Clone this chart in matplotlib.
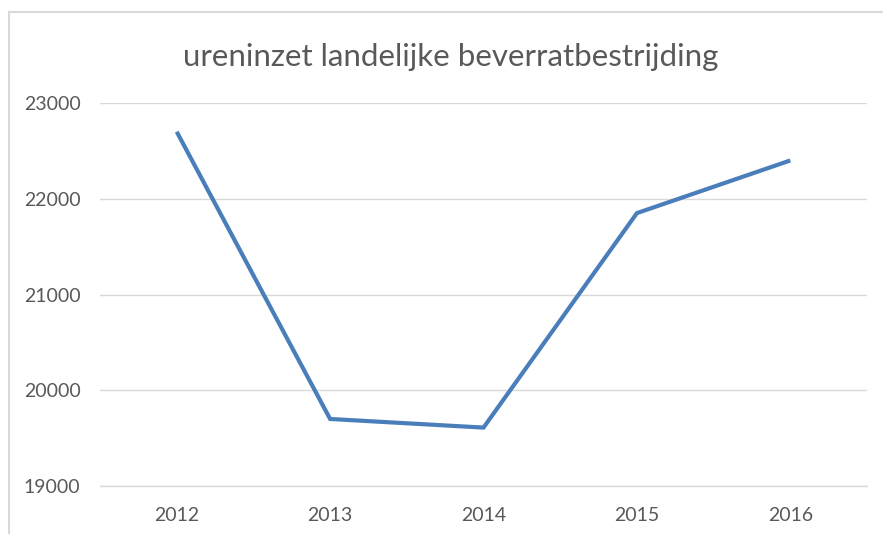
import matplotlib
matplotlib.use("Agg")
import matplotlib.pyplot as plt
from matplotlib.lines import Line2D

years = ["2012", "2013", "2014", "2015", "2016"]
hours = [22700, 19700, 19610, 21850, 22400]
yticks = [19000, 20000, 21000, 22000, 23000]
title = "ureninzet landelijke beverratbestrijding"

plt.rcParams['font.family'] = ['Lato', 'DejaVu Sans']

W, H = 883, 534
fig = plt.figure(figsize=(W/100, H/100), dpi=100)
ax = fig.add_axes([100/W, 1-486/H, (867-100)/W, (486-103)/H])

x = list(range(len(years)))
ax.plot(x, hours, color="#4A7EBB", lw=3.0, solid_joinstyle="miter", solid_capstyle="butt", zorder=3)
ax.set_xlim(-0.5, len(years)-0.5)
ax.set_ylim(19000, 23000)
ax.set_yticks(yticks)
ax.set_yticklabels([str(v) for v in yticks])
ax.set_xticks(x)
ax.set_xticklabels(years)
ax.grid(axis="y", color="#D9D9D9", lw=1.0)
ax.set_axisbelow(True)
for s in ["top", "right", "left"]:
    ax.spines[s].set_visible(False)
ax.spines["bottom"].set_color("#D9D9D9")
ax.spines["bottom"].set_linewidth(1.0)
ax.tick_params(axis="both", length=0, colors="#595959", labelsize=14)
ax.tick_params(axis="y", pad=14)
ax.tick_params(axis="x", pad=15)

fig.text(451/W, 1-57/H, title, ha="center", va="center", fontsize=22.5, color="#595959")

# chart border (cropped)
fig.add_artist(Line2D([9/W, 9/W], [0, 1-12/H], transform=fig.transFigure, color="#D9D9D9", lw=1.5))
fig.add_artist(Line2D([9/W, 1], [1-12/H, 1-12/H], transform=fig.transFigure, color="#D9D9D9", lw=1.5))

fig.savefig("out.png", dpi=100)
